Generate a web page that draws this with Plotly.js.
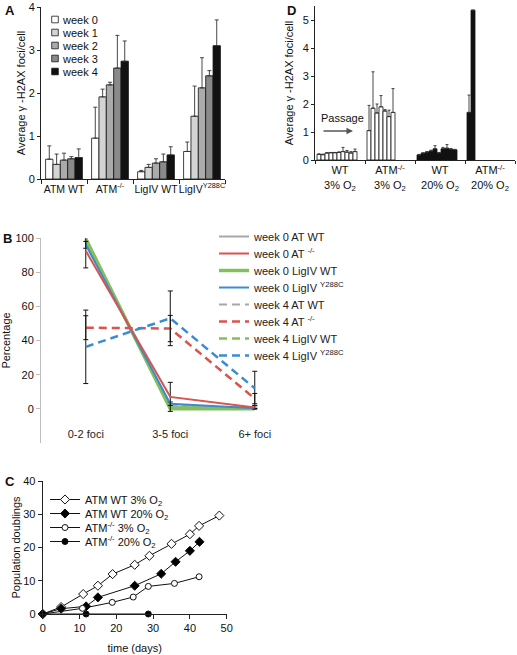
<!DOCTYPE html>
<html><head><meta charset="utf-8">
<script src="https://cdn.plot.ly/plotly-3.0.1.min.js"></script>
<style>html,body{margin:0;padding:0;background:#fff;}#chart{width:517px;height:655px;}</style>
</head><body><div id="chart"></div>
<script>
// ---------- Panel A data ----------
const aGroups = ['ATM WT', 'ATM<sup>-/-</sup>', 'LigIV WT', 'LigIV<sup>Y288C</sup>'];
const aWeeks = ['week 0', 'week 1', 'week 2', 'week 3', 'week 4'];
const aWeek0 = [0.46, 0.95, 0.17, 0.64];
const aWeek1 = [0.34, 1.91, 0.27, 1.46];
const aWeek2 = [0.44, 2.19, 0.37, 2.12];
const aWeek3 = [0.47, 2.58, 0.40, 2.40];
const aWeek4 = [0.50, 2.74, 0.56, 3.10];
const aErr0 = [0.31, 0.72, 0.03, 0.22];
const aErr1 = [0.24, 0.18, 0.07, 0.70];
const aErr2 = [0.16, 0.06, 0.10, 0.70];
const aErr3 = [0.05, 0.76, 0.18, 0.12];
const aErr4 = [0.20, 0.47, 0.19, 0.60];

// ---------- Panel D data ----------
const dGroups = ['WT<br>3% O<sub>2</sub>', 'ATM<sup>-/-</sup><br>3% O<sub>2</sub>', 'WT<br>20% O<sub>2</sub>', 'ATM<sup>-/-</sup><br>20% O<sub>2</sub>'];
const dWT3 = [0.20, 0.19, 0.25, 0.26, 0.26, 0.27, 0.30, 0.28, 0.25, 0.30];
const dWT3Err = [0.02, 0.02, 0.01, 0.01, 0.01, 0.02, 0.15, 0.06, 0.05, 0.09];
const dATM3 = [1.05, 1.85, 1.68, 1.90, 1.75, 1.55, 1.70];
const dATM3Err = [0.90, 1.30, 0.32, 0.40, 0.05, 0.23, 0.85];
const dWT20 = [0.18, 0.24, 0.28, 0.32, 0.40, 0.25, 0.40, 0.42, 0.38, 0.36];
const dWT20Err = [0.02, 0.02, 0.02, 0.03, 0.11, 0.02, 0.05, 0.13, 0.03, 0.02];
const dATM20 = [1.70, 5.35];
const dATM20Err = [0.62, 0];

// ---------- Panel B data ----------
const bCats = ['0-2 foci', '3-5 foci', '6+ foci'];
const bW0ATWT = [98, 1.5, 0.5];
const bW0ATko = [92.5, 7, 0.8];
const bW0ATkoErr = [10, 8.5, 1];
const bW0LigWT = [99.5, 0, 0];
const bW0LigMut = [96, 3, 0.3];
const bW0LigMutErr = [2, 1, 0];
const bW4ATWT = [97, 2, 0.5];
const bW4ATko = [47.5, 47, 6];
const bW4ATkoErr = [7, 7.7, 3];
const bW4LigWT = [98, 1, 0.5];
const bW4LigMut = [36.3, 53, 12];
const bW4LigMutErr = [21.5, 16, 10];

// ---------- Panel C data ----------
const cWT3x = [0, 5, 11, 15, 19, 25, 29, 35, 40, 42.5, 48];
const cWT3y = [0, 2.1, 6, 8.5, 12, 14.8, 17.5, 21.1, 24, 26.5, 29.6];
const cWT20x = [0, 5, 11.8, 15, 25, 32.2, 36.1, 40, 42.6];
const cWT20y = [0, 1.6, 2.3, 5, 8.5, 12.1, 15.7, 19, 21.7];
const cKO3x = [0, 10.8, 18.9, 24.6, 28.7, 35.8, 42.5];
const cKO3y = [0, 1.7, 3.5, 5.1, 8.3, 9.2, 11.2];
const cKO20x = [0, 11.8, 28.7];
const cKO20y = [0, 0, 0];

const FONT = 'Liberation Sans, Arial, sans-serif';
const W = 517, H = 655;
const px = v => v / W;
const py = v => 1 - v / H;

const traces = [];

// Panel A bars
const aVals = [aWeek0, aWeek1, aWeek2, aWeek3, aWeek4];
const aErrs = [aErr0, aErr1, aErr2, aErr3, aErr4];
const aColors = ['#ffffff', '#d4d4d4', '#ababab', '#8a8a8a', '#111111'];
aVals.forEach((vals, i) => {
  traces.push({
    type: 'bar', x: aGroups, y: vals, name: aWeeks[i], xaxis: 'x', yaxis: 'y', legend: 'legend',
    marker: {color: aColors[i], line: {color: '#111', width: 0.8}},
    error_y: {type: 'data', array: aErrs[i], arrayminus: aErrs[i].map(() => 0), symmetric: false, color: '#333', thickness: 0.9, width: 2}
  });
});

// Panel D bars (positions derived from index within group)
const dSets = [[dWT3, dWT3Err, '#ffffff'], [dATM3, dATM3Err, '#ffffff'], [dWT20, dWT20Err, '#111111'], [dATM20, dATM20Err, '#111111']];
const dBarW = 0.08, dOffset = 0.04;
dSets.forEach((s, g) => {
  const vals = s[0];
  traces.push({
    type: 'bar', x: vals.map((_, i) => g + dOffset + (i + 0.5) * dBarW), y: vals, width: vals.map(() => dBarW),
    xaxis: 'x2', yaxis: 'y2', showlegend: false,
    marker: {color: s[2], line: {color: '#111', width: 0.8}},
    error_y: {type: 'data', array: s[1], arrayminus: s[1].map(() => 0), symmetric: false, color: '#333', thickness: 0.9, width: 1.5}
  });
});

// Panel B lines
const red = '#d9534f', green = '#84c05a', blue = '#3a8cd2', grey = '#a8a8a8';
const dashP = '8px,5px';
const bSeries = [
  // [name, y, err, color, dash, width, legendrank]
  ['week 0 AT WT', bW0ATWT, null, grey, 'solid', 2, 1],
  ['week 4 AT WT', bW4ATWT, null, grey, dashP, 2, 5],
  ['week 0 LigIV WT', bW0LigWT, null, green, 'solid', 3.5, 3],
  ['week 4 LigIV WT', bW4LigWT, null, green, dashP, 2.5, 7],
  ['week 0 LigIV <sup>Y288C</sup>', bW0LigMut, bW0LigMutErr, blue, 'solid', 2, 4],
  ['week 0 AT <sup>-/-</sup>', bW0ATko, bW0ATkoErr, red, 'solid', 2, 2],
  ['week 4 AT <sup>-/-</sup>', bW4ATko, bW4ATkoErr, red, dashP, 2.5, 6],
  ['week 4 LigIV <sup>Y288C</sup>', bW4LigMut, bW4LigMutErr, blue, dashP, 2.5, 8]
];
bSeries.forEach(s => {
  const t = {
    type: 'scatter', mode: 'lines', x: bCats, y: s[1], name: s[0], xaxis: 'x3', yaxis: 'y3',
    legend: 'legend2', legendrank: s[6],
    line: {color: s[3], dash: s[4], width: s[5]}
  };
  if (s[2]) t.error_y = {type: 'data', array: s[2], color: '#111', thickness: 1, width: 2.5};
  traces.push(t);
});

// Panel C lines
const cSeries = [
  ['ATM WT 3% O<sub>2</sub>', cWT3x, cWT3y, 'diamond', '#ffffff', 7],
  ['ATM WT 20% O<sub>2</sub>', cWT20x, cWT20y, 'diamond', '#000000', 7],
  ['ATM<sup>-/-</sup> 3% O<sub>2</sub>', cKO3x, cKO3y, 'circle', '#ffffff', 6],
  ['ATM<sup>-/-</sup> 20% O<sub>2</sub>', cKO20x, cKO20y, 'circle', '#000000', 6]
];
cSeries.forEach(s => {
  traces.push({
    type: 'scatter', mode: 'lines+markers', x: s[1], y: s[2], name: s[0], xaxis: 'x4', yaxis: 'y4', legend: 'legend3',
    line: {color: '#111', width: 1},
    marker: {symbol: s[3], color: s[4], size: s[5], line: {color: '#111', width: 1}},
    cliponaxis: false
  });
});

const axBase = {showgrid: false, zeroline: false, showline: true, linecolor: '#222', linewidth: 1,
  ticks: 'outside', ticklen: 3, tickcolor: '#222', tickfont: {family: FONT, size: 11, color: '#111'}};

const layout = {
  width: W, height: H, margin: {l: 0, r: 0, t: 0, b: 0},
  paper_bgcolor: '#fff', plot_bgcolor: 'rgba(0,0,0,0)',
  font: {family: FONT, size: 11, color: '#111'},
  barmode: 'group', bargap: 0.2, bargroupgap: 0,
  showlegend: true,
  // Panel A
  xaxis: Object.assign({}, axBase, {domain: [px(41), px(225)], anchor: 'y', type: 'category', tickson: 'boundaries', ticklen: 4,
    tickangle: 0, tickfont: {family: FONT, size: 10.5, color: '#111'}}),
  yaxis: Object.assign({}, axBase, {domain: [py(179), py(7)], anchor: 'x', range: [0, 4], dtick: 1,
    title: {text: 'Average γ -H2AX foci/cell', font: {family: FONT, size: 11}, standoff: 0}}),
  // Panel D
  xaxis2: Object.assign({}, axBase, {domain: [px(315), px(515)], anchor: 'y2', range: [0, 4],
    tickvals: [0.5, 1.5, 2.5, 3.5], ticktext: dGroups, ticks: '', tickangle: 0,
    minor: {tickvals: [0, 1, 2, 3, 4], ticks: 'outside', ticklen: 3, tickcolor: '#222'}}),
  yaxis2: Object.assign({}, axBase, {domain: [py(160), py(6)], anchor: 'x2', range: [0, 5.5], dtick: 1,
    title: {text: 'Average γ -H2AX foci/cell', font: {family: FONT, size: 11}, standoff: 6}}),
  // Panel B
  xaxis3: Object.assign({}, axBase, {domain: [px(41), px(297)], anchor: 'y3', type: 'category', range: [-0.53, 2.5],
    showline: false, ticks: '', ticklabelposition: 'inside', tickangle: 0, tickfont: {family: FONT, size: 11, color: '#222'}}),
  yaxis3: Object.assign({}, axBase, {domain: [py(443), py(238)], anchor: 'x3', range: [-20, 100], dtick: 20,
    linecolor: '#bdbdbd', tickcolor: '#bdbdbd', ticklen: 4,
    title: {text: 'Percentage', font: {family: FONT, size: 11}, standoff: 9}}),
  // Panel C
  xaxis4: Object.assign({}, axBase, {domain: [px(42.7), px(226.7)], anchor: 'y4', range: [0, 50], dtick: 10, ticklen: 4,
    title: {text: 'time (days)', font: {family: FONT, size: 11}, standoff: 11}}),
  yaxis4: Object.assign({}, axBase, {domain: [py(614), py(481)], anchor: 'x4', range: [0, 40], dtick: 10, ticklen: 4,
    title: {text: 'Population doublings', font: {family: FONT, size: 11}, standoff: 0}}),
  legend: {x: px(23), y: py(5), xanchor: 'left', yanchor: 'top', bgcolor: 'rgba(0,0,0,0)', font: {family: FONT, size: 11}, tracegroupgap: 0},
  legend2: {x: px(214), y: py(222), xanchor: 'left', yanchor: 'top', bgcolor: 'rgba(0,0,0,0)', font: {family: FONT, size: 11, color: '#222'}, traceorder: 'normal'},
  legend3: {x: px(45), y: py(485), xanchor: 'left', yanchor: 'top', bgcolor: 'rgba(0,0,0,0)', font: {family: FONT, size: 11}},
  annotations: [
    {text: '<b>A</b>', x: px(3), y: py(10), xref: 'paper', yref: 'paper', xanchor: 'left', yanchor: 'middle', showarrow: false, font: {family: FONT, size: 13}},
    {text: '<b>D</b>', x: px(285), y: py(10), xref: 'paper', yref: 'paper', xanchor: 'left', yanchor: 'middle', showarrow: false, font: {family: FONT, size: 13}},
    {text: '<b>B</b>', x: px(1), y: py(238), xref: 'paper', yref: 'paper', xanchor: 'left', yanchor: 'middle', showarrow: false, font: {family: FONT, size: 13}},
    {text: '<b>C</b>', x: px(3), y: py(481), xref: 'paper', yref: 'paper', xanchor: 'left', yanchor: 'middle', showarrow: false, font: {family: FONT, size: 13}},
    {text: 'Passage', x: px(342), y: py(118), xref: 'paper', yref: 'paper', xanchor: 'center', yanchor: 'middle', showarrow: false, font: {family: FONT, size: 11}},
    {text: '', x: px(353), y: py(131), xref: 'paper', yref: 'paper', showarrow: true, ax: -31, ay: 0,
      arrowhead: 2, arrowsize: 1, arrowwidth: 1.3, arrowcolor: '#555'}
  ]
};

// legend row pitch in the reference (px); Plotly's minimum is 19
const legendPitch = {legend: 13, legend2: 17, legend3: 14};

Plotly.newPlot('chart', traces, layout, {staticPlot: true, displayModeBar: false}).then(gd => {
  Object.keys(legendPitch).forEach(id => {
    const grp = gd.querySelector('g.infolayer g.' + id);
    if (!grp) return;
    const items = Array.from(grp.querySelectorAll('g.traces'));
    const pos = items.map(el => {
      const m = /translate\(\s*([-\d.e]+)[\s,]+([-\d.e]+)\s*\)/.exec(el.getAttribute('transform') || '');
      return m ? [parseFloat(m[1]), parseFloat(m[2])] : null;
    });
    if (pos.length < 2 || pos.some(p => !p)) return;
    const sorted = pos.map(p => p[1]).slice().sort((a, b) => a - b);
    const y0 = sorted[0];
    const step = sorted[1] - sorted[0];
    if (!(step > 0)) return;
    items.forEach((el, i) => {
      const k = Math.round((pos[i][1] - y0) / step);
      el.setAttribute('transform', 'translate(' + pos[i][0] + ',' + (y0 + k * legendPitch[id]) + ')');
    });
  });
  // smaller bar swatches in panel A legend, as in the reference
  const legA = gd.querySelector('g.infolayer g.legend');
  if (legA) {
    legA.querySelectorAll('g.legendpoints path').forEach(p => {
      p.setAttribute('transform', 'translate(32,0) scale(0.55)');
      p.style.strokeWidth = '1.4px';
    });
  }
});
</script>
</body></html>
